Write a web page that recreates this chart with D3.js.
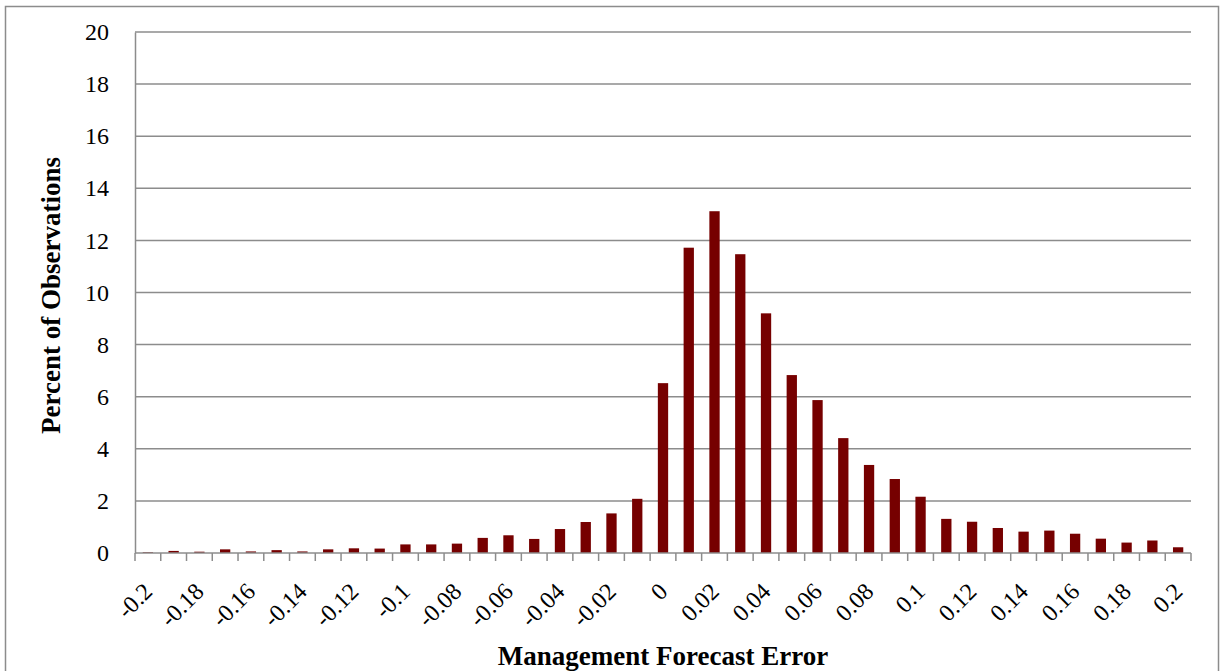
<!DOCTYPE html>
<html>
<head>
<meta charset="utf-8">
<script src="https://cdn.jsdelivr.net/npm/d3@7"></script>
<style>
  body { margin: 0; background: #fff; }
  svg { display: block; font-family: "Liberation Serif", "Times New Roman", serif; }
  .grid line { stroke: #8c8c8c; stroke-width: 1.5; }
  .tick text { fill: #000; }
</style>
</head>
<body>
<svg width="1231" height="671"></svg>
<script>
"use strict";

// forecast error bins, -0.20 .. 0.20 in steps of 0.01
const bins = [
  "-0.2", "-0.19", "-0.18", "-0.17", "-0.16", "-0.15", "-0.14", "-0.13", "-0.12", "-0.11",
  "-0.1", "-0.09", "-0.08", "-0.07", "-0.06", "-0.05", "-0.04", "-0.03", "-0.02", "-0.01",
  "0", "0.01", "0.02", "0.03", "0.04", "0.05", "0.06", "0.07", "0.08", "0.09",
  "0.1", "0.11", "0.12", "0.13", "0.14", "0.15", "0.16", "0.17", "0.18", "0.19", "0.2"
];
const percents = [
  0.03, 0.08, 0.05, 0.14, 0.06, 0.11, 0.06, 0.14, 0.18, 0.17,
  0.33, 0.33, 0.36, 0.58, 0.68, 0.54, 0.92, 1.19, 1.52, 2.08,
  6.52, 11.72, 13.12, 11.47, 9.2, 6.83, 5.87, 4.41, 3.38, 2.84,
  2.16, 1.31, 1.2, 0.96, 0.82, 0.86, 0.74, 0.55, 0.4, 0.48, 0.22
];
const yTicks = [0, 2, 4, 6, 8, 10, 12, 14, 16, 18, 20];
const xLabels = bins.filter((d, i) => i % 2 === 0);

const svg = d3.select("svg");
const plotLeft = 135, plotRight = 1191, plotTop = 32, plotBottom = 553;

// outer chart border
svg.append("rect")
  .attr("x", 5.5).attr("y", 6.5)
  .attr("width", 1213).attr("height", 720)
  .attr("fill", "none")
  .attr("stroke", "#8c8c8c")
  .attr("stroke-width", 1.5);

const x = d3.scaleBand().domain(bins).range([plotLeft, plotRight]).paddingInner(0.6).paddingOuter(0.3);
const xCat = d3.scaleBand().domain(bins).range([plotLeft, plotRight]);
const y = d3.scaleLinear().domain([0, 20]).range([plotBottom, plotTop]);

// gridlines
svg.append("g")
  .attr("class", "grid")
  .selectAll("line")
  .data(yTicks.slice(1))
  .enter()
  .append("line")
  .attr("x1", plotLeft).attr("x2", plotRight)
  .attr("y1", d => y(d)).attr("y2", d => y(d));

// y axis
const yAxis = svg.append("g")
  .attr("transform", `translate(${plotLeft},0)`)
  .call(d3.axisLeft(y).tickValues(yTicks).tickSize(0).tickPadding(26))
  .attr("font-family", null)
  .attr("font-size", 24);
yAxis.select(".domain").attr("stroke", "#8c8c8c").attr("stroke-width", 1.5);

// bars
svg.append("g")
  .selectAll("rect")
  .data(percents)
  .enter()
  .append("rect")
  .attr("x", (d, i) => x(bins[i]))
  .attr("y", d => y(d))
  .attr("width", x.bandwidth())
  .attr("height", d => plotBottom - y(d))
  .attr("fill", "#760000");

// x axis: ticks between categories
const edges = bins.map(b => xCat(b)).concat([plotRight]);
const xAxis = svg.append("g");
xAxis.append("line")
  .attr("x1", plotLeft).attr("x2", plotRight)
  .attr("y1", plotBottom).attr("y2", plotBottom)
  .attr("stroke", "#8c8c8c").attr("stroke-width", 1.5);
xAxis.selectAll(".xtick")
  .data(edges)
  .enter()
  .append("line")
  .attr("x1", d => d).attr("x2", d => d)
  .attr("y1", plotBottom).attr("y2", plotBottom + 8)
  .attr("stroke", "#8c8c8c").attr("stroke-width", 1.5);

xAxis.selectAll(".xlabel")
  .data(xLabels)
  .enter()
  .append("text")
  .attr("transform", d => `translate(${xCat(d) + xCat.bandwidth() / 2},${plotBottom + 34}) rotate(-45)`)
  .attr("text-anchor", "end")
  .attr("dy", "0.35em")
  .style("font-size", "24px")
  .text(d => d);

// axis titles
svg.append("text")
  .attr("transform", `translate(60,${(plotTop + plotBottom) / 2 + 3}) rotate(-90)`)
  .attr("text-anchor", "middle")
  .style("font-size", "27px")
  .style("font-weight", "bold")
  .text("Percent of Observations");

svg.append("text")
  .attr("x", 663)
  .attr("y", 665)
  .attr("text-anchor", "middle")
  .style("font-size", "27px")
  .style("font-weight", "bold")
  .text("Management Forecast Error");
</script>
</body>
</html>
